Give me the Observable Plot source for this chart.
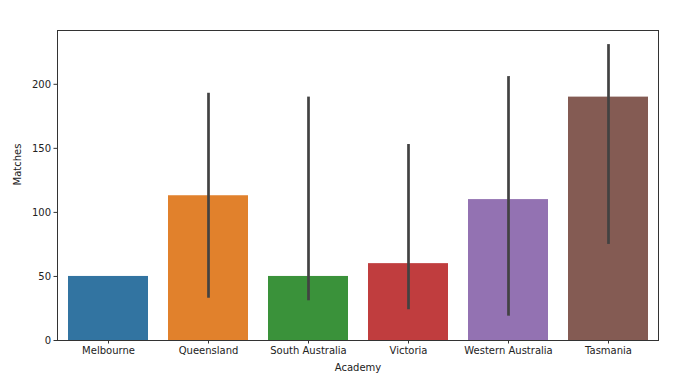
<!DOCTYPE html>
<html>
<head>
<meta charset="utf-8">
<script src="https://cdn.jsdelivr.net/npm/d3@7"></script>
<script src="https://cdn.jsdelivr.net/npm/@observablehq/plot@0.6"></script>
<style>
  html, body { margin: 0; padding: 0; background: #fff; }
  svg { display: block; }
</style>
</head>
<body>
<div id="chart"></div>
<script>
const academies = ["Melbourne", "Queensland", "South Australia", "Victoria", "Western Australia", "Tasmania"];
const matches = [50, 113, 50, 60, 110, 190];
const ciLow = [null, 33, 31, 24, 19, 75];
const ciHigh = [null, 193, 190, 153, 206, 231];
const colors = ["#3274a1", "#e1812c", "#3a923a", "#c03d3e", "#9372b2", "#845b53"];
const yTicks = [0, 50, 100, 150, 200];

const rows = academies.map((a, i) => ({academy: a, matches: matches[i], lo: ciLow[i], hi: ciHigh[i]}));
const errRows = rows.filter(d => d.lo != null);

const plot = Plot.plot({
  width: 700,
  height: 382,
  marginLeft: 57,
  marginRight: 42,
  marginTop: 30,
  marginBottom: 42,
  style: {fontFamily: "DejaVu Sans", fontSize: "10px", color: "#222", background: "#fff"},
  x: {domain: academies, paddingInner: 0.2, paddingOuter: 0.1, label: null},
  y: {domain: [0, 242], label: null},
  color: {domain: academies, range: colors},
  marks: [
    Plot.barY(rows, {x: "academy", y: "matches", fill: "academy"}),
    Plot.ruleX(errRows, {x: "academy", y1: "lo", y2: "hi", stroke: "#424242", strokeWidth: 2.7}),
    Plot.frame({stroke: "#333", strokeWidth: 1}),
    Plot.axisX({tickSize: 3.5, tickPadding: 3, label: null, stroke: "#333", fill: "#222"}),
    Plot.axisY({ticks: yTicks, tickSize: 3.5, tickPadding: 3, label: null, stroke: "#333", fill: "#222"}),
    Plot.text(["Academy"], {frameAnchor: "bottom", dy: 30, fill: "#222"}),
    Plot.text(["Matches"], {frameAnchor: "left", dx: -40, rotate: -90, fill: "#222"})
  ]
});
document.getElementById("chart").appendChild(plot);
</script>
</body>
</html>
